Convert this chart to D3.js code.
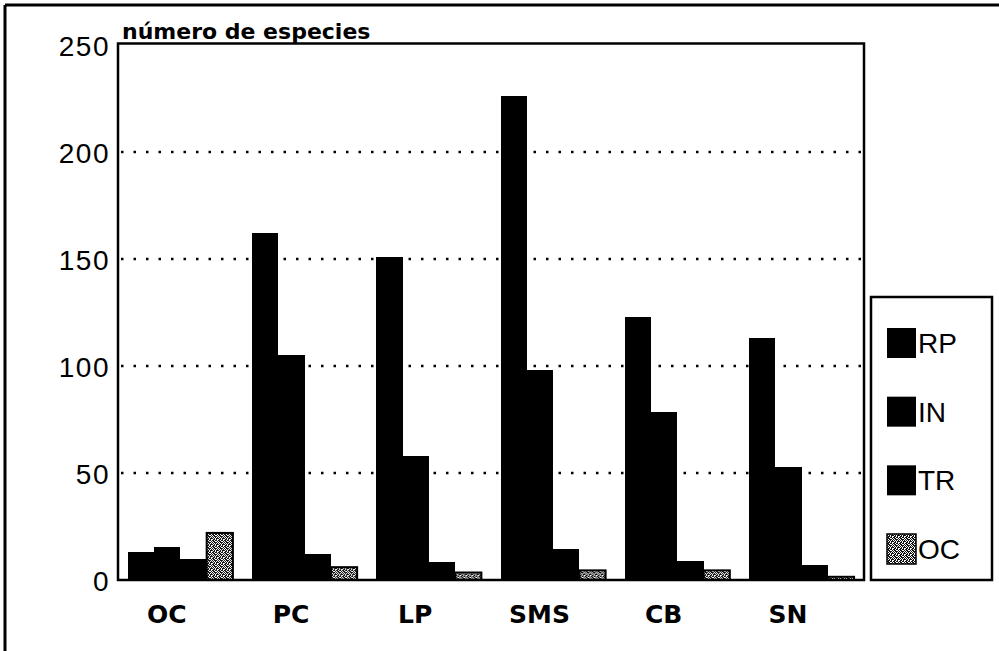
<!DOCTYPE html>
<html>
<head>
<meta charset="utf-8">
<script src="https://cdn.jsdelivr.net/npm/d3@7/dist/d3.min.js"></script>
<style>
  html, body { margin: 0; padding: 0; background: #fff; }
  svg { display: block; }
</style>
</head>
<body>
<svg id="chart" width="999" height="651"></svg>
<script>
// ---- data ----
const categories = ["OC", "PC", "LP", "SMS", "CB", "SN"];
const seriesNames = ["RP", "IN", "TR", "OC"];
const valuesRP = [13, 162, 151, 226, 123, 113];
const valuesIN = [15.5, 105, 58, 98, 78.5, 53];
const valuesTR = [10, 12, 8.5, 14.5, 9, 7];
const valuesOC = [22, 6, 3.5, 4.5, 4.5, 1.5];
const yTicks = [0, 50, 100, 150, 200, 250];
const titleText = "número de especies";

const seriesValues = [valuesRP, valuesIN, valuesTR, valuesOC];

const svg = d3.select("#chart");
const W = 999, H = 651;
const plot = { left: 118, right: 864, top: 44, bottom: 580 };

// pattern for OC series (stippled grey)
const defs = svg.append("defs");
const pat = defs.append("pattern")
  .attr("id", "stipple")
  .attr("patternUnits", "userSpaceOnUse")
  .attr("width", 6).attr("height", 6);
pat.append("rect").attr("width", 6).attr("height", 6).attr("fill", "#fff");
const dots = [[0,0],[1,0],[3,0],[4,0],[5,1],[1,1],[2,1],[0,2],[2,2],[3,2],[4,2],[1,3],[3,3],[5,3],[0,4],[2,4],[4,4],[5,4],[1,5],[2,5],[4,5]];
dots.forEach(([dx, dy]) => pat.append("rect").attr("x", dx).attr("y", dy).attr("width", 1).attr("height", 1).attr("fill", "#111"));

const fills = ["#000", "#000", "#000", "url(#stipple)"];

// scales
const y = d3.scaleLinear().domain([0, 250]).range([plot.bottom, plot.bottom - 250 * 2.14]);
const x0 = d3.scaleBand().domain(categories).range([plot.left, plot.right]).paddingInner(0.155).paddingOuter(0.08);
const x1 = d3.scaleBand().domain(seriesNames).range([0, x0.bandwidth()]);

// outer frame
svg.append("line").attr("x1", 5).attr("x2", W).attr("y1", 5).attr("y2", 5).attr("stroke", "#000").attr("stroke-width", 3);
svg.append("line").attr("x1", 5).attr("x2", 5).attr("y1", 5).attr("y2", H).attr("stroke", "#000").attr("stroke-width", 3);

// gridlines
svg.append("g").selectAll("line").data(yTicks.filter(t => t > 0 && t < 250)).join("line")
  .attr("x1", plot.left + 3).attr("x2", plot.right - 3)
  .attr("y1", d => y(d)).attr("y2", d => y(d))
  .attr("stroke", "#000").attr("stroke-width", 2.5)
  .attr("stroke-dasharray", "2.5,10");

// bars
const groups = svg.append("g").selectAll("g").data(categories).join("g")
  .attr("transform", d => `translate(${x0(d)},0)`);
groups.selectAll("rect").data((c, i) => seriesNames.map((s, j) => ({ s, j, v: seriesValues[j][i] }))).join("rect")
  .attr("x", d => x1(d.s))
  .attr("y", d => y(d.v))
  .attr("width", x1.bandwidth())
  .attr("height", d => y(0) - y(d.v))
  .attr("fill", d => fills[d.j])
  .attr("shape-rendering", d => d.j === 3 ? "auto" : "crispEdges")
  .attr("stroke", d => d.j === 3 ? "#000" : "none")
  .attr("stroke-width", 2);

// plot frame
svg.append("rect").attr("x", plot.left).attr("y", y(250) - 1.5).attr("width", plot.right - plot.left)
  .attr("height", plot.bottom - y(250) + 1.5)
  .attr("fill", "none").attr("stroke", "#000").attr("stroke-width", 2.5);

// y axis labels
const yAxis = d3.axisLeft(y).tickValues(yTicks).tickSize(0).tickPadding(8);
const gy = svg.append("g").attr("transform", `translate(${plot.left},0)`).call(yAxis);
gy.select(".domain").remove();
gy.selectAll("text")
  .attr("font-family", "Liberation Sans, Arial, sans-serif")
  .attr("font-size", 28).attr("fill", "#000")
  .attr("letter-spacing", 1.5)
  .attr("dy", "0.36em");

// x labels
svg.append("g").selectAll("text").data(categories).join("text")
  .attr("x", d => x0(d) + x0.bandwidth() * 0.37)
  .attr("y", 623)
  .attr("text-anchor", "middle")
  .attr("font-family", "DejaVu Sans, sans-serif")
  .attr("font-weight", "bold")
  .attr("font-size", 25)
  .text(d => d);

// title
svg.append("text")
  .attr("x", 122).attr("y", 39)
  .attr("font-family", "DejaVu Sans, sans-serif")
  .attr("font-weight", "bold")
  .attr("font-size", 22)
  .text(titleText);

// legend
const lg = { x: 871, y: 297, w: 121, h: 283 };
svg.append("rect").attr("x", lg.x).attr("y", lg.y).attr("width", lg.w).attr("height", lg.h)
  .attr("fill", "#fff").attr("stroke", "#000").attr("stroke-width", 2.5);
const legendY = d3.scalePoint().domain(seriesNames).range([lg.y + 46, lg.y + 252]);
const li = svg.append("g").selectAll("g").data(seriesNames).join("g")
  .attr("transform", d => `translate(${lg.x + 16},${legendY(d)})`);
li.append("rect").attr("x", 0).attr("y", -15).attr("width", 29).attr("height", 30)
  .attr("fill", (d, i) => fills[i])
  .attr("stroke", (d, i) => i === 3 ? "#000" : "none").attr("stroke-width", 1.5);
li.append("text").attr("x", 31).attr("y", 0).attr("dy", "0.36em")
  .attr("font-family", "Liberation Sans Narrow, Liberation Sans, sans-serif")
  .attr("font-size", 28)
  .text(d => d);
</script>
</body>
</html>
